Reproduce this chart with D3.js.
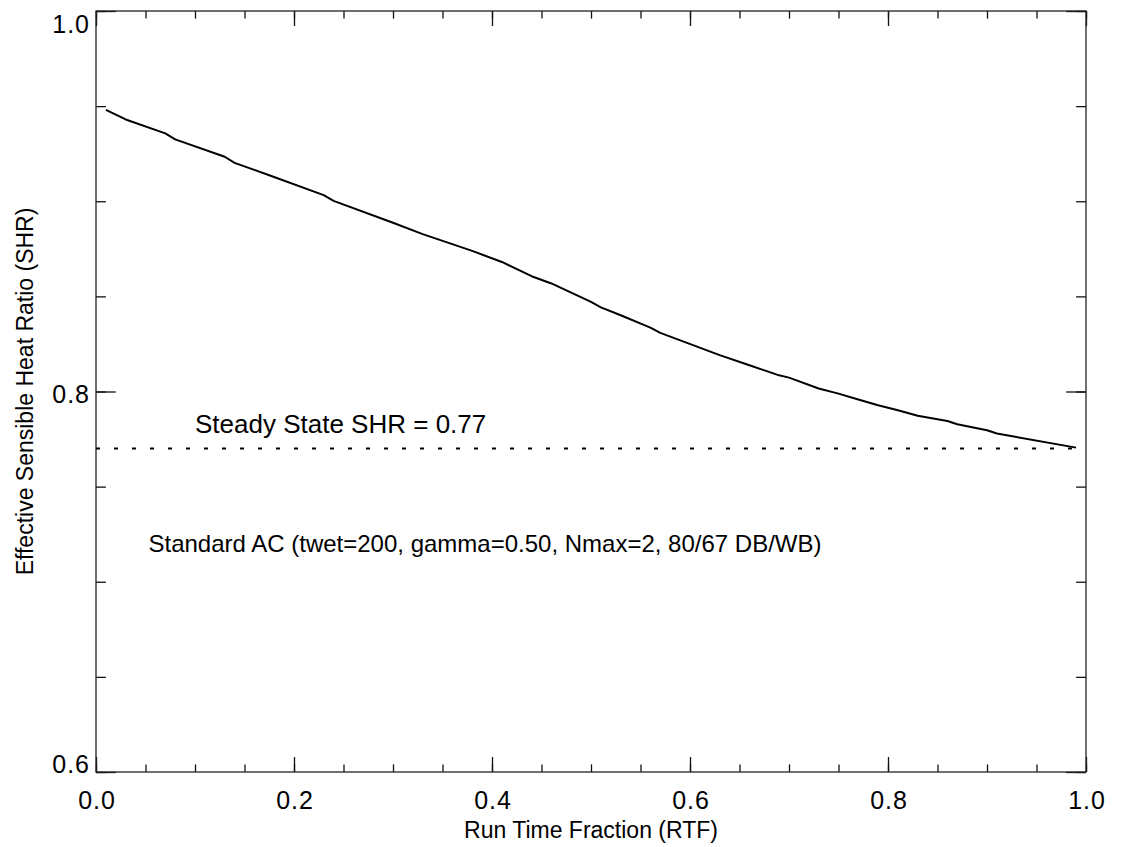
<!DOCTYPE html>
<html>
<head>
<meta charset="utf-8">
<script src="https://cdn.jsdelivr.net/npm/d3@7"></script>
<style>
  body { margin: 0; background: #fff; }
  svg { display: block; font-family: "Liberation Sans", Arial, sans-serif; }
</style>
</head>
<body>
<div id="chart"></div>
<script>
const width = 1124;
const height = 847;

// curve
const rtf = [0.01, 0.03, 0.07, 0.08, 0.13, 0.14, 0.175, 0.23, 0.24, 0.30, 0.33, 0.38, 0.41, 0.44,
    0.46, 0.50, 0.51, 0.53, 0.56, 0.57, 0.63, 0.66, 0.69, 0.70, 0.73, 0.75, 0.77, 0.79, 0.81,
    0.83, 0.86, 0.87, 0.90, 0.91, 0.99];
const shr = [0.948, 0.943, 0.9357, 0.9325, 0.9234, 0.9202, 0.9137, 0.9032, 0.9002, 0.8887, 0.8827,
    0.8739, 0.8681, 0.8606, 0.8568, 0.8471, 0.8442, 0.8401, 0.8336, 0.8308, 0.8191, 0.8138,
    0.8085, 0.8073, 0.8016, 0.7989, 0.7958, 0.7928, 0.7901, 0.7873, 0.7845, 0.7828, 0.7796,
    0.7779, 0.7705];

const steadyShr = 0.77;
const steadyRange = [0.0, 0.99];

const xMajor = [0.0, 0.2, 0.4, 0.6, 0.8, 1.0];
const yMajor = [0.6, 0.8, 1.0];
const xMinor = d3.range(0, 21).map(i => i * 0.05);
const yMinor = d3.range(0, 9).map(i => 0.6 + i * 0.05);

const notes = [
    {x: 0.1, y: 0.778, size: 26, text: "Steady State SHR = 0.77"},
    {x: 0.053, y: 0.7155, size: 24, text: "Standard AC (twet=200, gamma=0.50, Nmax=2, 80/67 DB/WB)"}
];

const margin = {top: 11, right: 38, bottom: 75, left: 96};
const iw = width - margin.left - margin.right;
const ih = height - margin.top - margin.bottom;

const x = d3.scaleLinear().domain([0, 1]).range([0, iw]);
const y = d3.scaleLinear().domain([0.6, 1.0]).range([ih, 0]);

const svg = d3.select("#chart")
    .append("svg")
    .attr("width", width)
    .attr("height", height)
    .attr("viewBox", [0, 0, width, height]);

const g = svg.append("g")
    .attr("transform", `translate(${margin.left},${margin.top})`);

const xMajLen = 15, xMinLen = 7.6, yMajLen = 19.8, yMinLen = 9.9;

function styleAxis(sel) {
    sel.select(".domain").remove();
    sel.selectAll(".tick line").attr("stroke", "#111").attr("stroke-width", 1.3);
    sel.selectAll("text").attr("fill", "#000");
}

// minor ticks, all four sides
g.append("g").attr("transform", `translate(0,${ih})`)
    .call(d3.axisBottom(x).tickValues(xMinor).tickSize(-xMinLen).tickFormat(""))
    .call(styleAxis);
g.append("g")
    .call(d3.axisTop(x).tickValues(xMinor).tickSize(-xMinLen).tickFormat(""))
    .call(styleAxis);
g.append("g")
    .call(d3.axisLeft(y).tickValues(yMinor).tickSize(-yMinLen).tickFormat(""))
    .call(styleAxis);
g.append("g").attr("transform", `translate(${iw},0)`)
    .call(d3.axisRight(y).tickValues(yMinor).tickSize(-yMinLen).tickFormat(""))
    .call(styleAxis);

// major ticks
const xAxis = g.append("g").attr("transform", `translate(0,${ih})`)
    .call(d3.axisBottom(x).tickValues(xMajor).tickSize(-xMajLen).tickPadding(19).tickFormat(d3.format(".1f")))
    .call(styleAxis);
g.append("g")
    .call(d3.axisTop(x).tickValues(xMajor).tickSize(-xMajLen).tickFormat(""))
    .call(styleAxis);
const yAxis = g.append("g")
    .call(d3.axisLeft(y).tickValues(yMajor).tickSize(-yMajLen).tickPadding(7).tickFormat(d3.format(".1f")))
    .call(styleAxis);
g.append("g").attr("transform", `translate(${iw},0)`)
    .call(d3.axisRight(y).tickValues(yMajor).tickSize(-yMajLen).tickFormat(""))
    .call(styleAxis);

xAxis.selectAll("text")
    .attr("font-size", 25)
    .attr("letter-spacing", 1)
    .attr("dx", 0.5);

// y labels drift from baseline-on-tick (bottom) to below the tick (top)
yAxis.selectAll("text")
    .attr("font-size", 25)
    .attr("letter-spacing", 1)
    .attr("dx", 1)
    .attr("dy", null)
    .attr("y", d => (d - 0.6) / 0.4 * 21.7);

// frame
g.append("rect")
    .attr("width", iw)
    .attr("height", ih)
    .attr("fill", "none")
    .attr("stroke", "#222")
    .attr("stroke-width", 1.3);

// steady state line
g.append("line")
    .attr("x1", x(steadyRange[0]))
    .attr("x2", x(steadyRange[1]))
    .attr("y1", y(steadyShr))
    .attr("y2", y(steadyShr))
    .attr("stroke", "#000")
    .attr("stroke-width", 2)
    .attr("stroke-dasharray", "4,14");

const line = d3.line()
    .x((d, i) => x(rtf[i]))
    .y(d => y(d));

g.append("path")
    .datum(shr)
    .attr("fill", "none")
    .attr("stroke", "#000")
    .attr("stroke-width", 2)
    .attr("stroke-linejoin", "round")
    .attr("d", line);

g.selectAll(".note")
    .data(notes)
    .join("text")
    .attr("class", "note")
    .attr("x", d => x(d.x))
    .attr("y", d => y(d.y))
    .attr("font-size", d => d.size)
    .attr("fill", "#000")
    .text(d => d.text);

// axis titles
svg.append("text")
    .attr("x", margin.left + iw / 2)
    .attr("y", 838)
    .attr("text-anchor", "middle")
    .attr("font-size", 23)
    .text("Run Time Fraction (RTF)");

svg.append("text")
    .attr("transform", `translate(33,${margin.top + ih / 2}) rotate(-90)`)
    .attr("text-anchor", "middle")
    .attr("font-size", 23)
    .text("Effective Sensible Heat Ratio (SHR)");
</script>
</body>
</html>
